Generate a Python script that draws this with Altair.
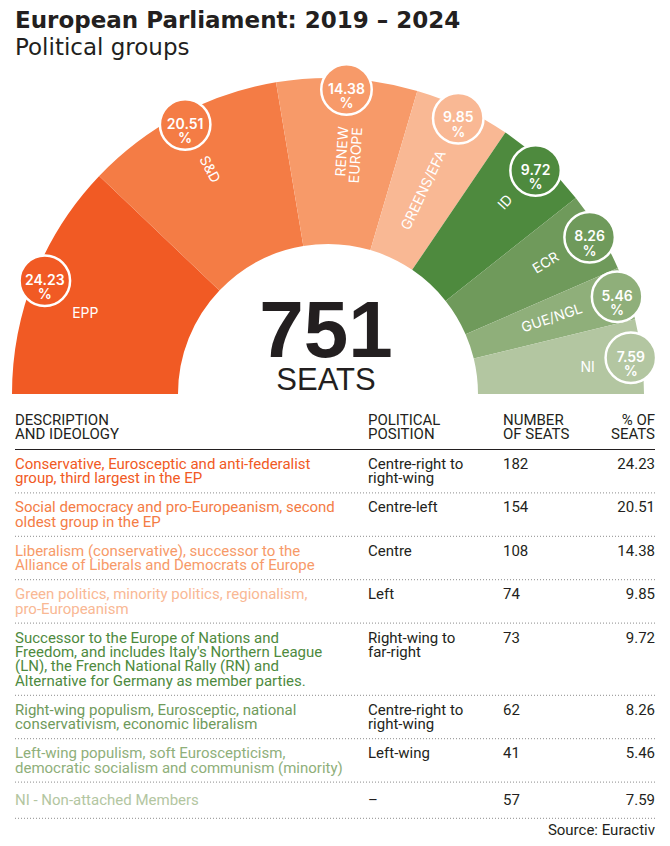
import math
import pandas as pd
import altair as alt

# ---------------- data ----------------
TITLE = "European Parliament: 2019 – 2024"
SUBTITLE = "Political groups"
TOTAL_SEATS = "751"
TOTAL_LABEL = "SEATS"
SOURCE = "Source: Euractiv"

PARTIES = ["EPP", "S&D", "RENEW EUROPE", "GREENS/EFA", "ID", "ECR", "GUE/NGL", "NI"]
ARC_LABELS = ["EPP", "S&D", "RENEW\nEUROPE", "GREENS/EFA", "ID", "ECR", "GUE/NGL", "NI"]
SEATS = [182, 154, 108, 74, 73, 62, 41, 57]
PCT = [24.23, 20.51, 14.38, 9.85, 9.72, 8.26, 5.46, 7.59]
PCT_TEXT = ["24.23", "20.51", "14.38", "9.85", "9.72", "8.26", "5.46", "7.59"]
COLORS = ["#F15A24", "#F47C45", "#F79A69", "#F9B894",
          "#4E8A3E", "#6F9A5B", "#8FAF7A", "#B3C6A1"]

DESCRIPTIONS = [
    ["Conservative, Eurosceptic and anti-federalist", "group, third largest in the EP"],
    ["Social democracy and pro-Europeanism, second", "oldest group in the EP"],
    ["Liberalism (conservative), successor to the", "Alliance of Liberals and Democrats of Europe"],
    ["Green politics, minority politics, regionalism,", "pro-Europeanism"],
    ["Successor to the Europe of Nations and",
     "Freedom, and includes Italy's Northern League",
     "(LN), the French National Rally (RN) and",
     "Alternative for Germany as member parties."],
    ["Right-wing populism, Eurosceptic, national", "conservativism, economic liberalism"],
    ["Left-wing populism, soft Euroscepticism,", "democratic socialism and communism (minority)"],
    ["NI - Non-attached Members"],
]
POSITIONS = [
    ["Centre-right to", "right-wing"],
    ["Centre-left"],
    ["Centre"],
    ["Left"],
    ["Right-wing to", "far-right"],
    ["Centre-right to", "right-wing"],
    ["Left-wing"],
    ["–"],
]
HEADERS = [["DESCRIPTION", "AND IDEOLOGY"], ["POLITICAL", "POSITION"],
           ["NUMBER", "OF SEATS"], ["% OF", "SEATS"]]

# ---------------- layout / style ----------------
CX, CY = 328, 394
R_OUT, R_IN = 316, 150
R_BADGE, R_LABEL = 305, 268
LABEL_HORIZONTAL = [True, False, False, False, False, False, False, True]
LABEL_SHIFT = [-4.5, 0, 0, 0, 0, 0, 0, 1.3]
DARK = "#231F20"
FONT = "Inter"
TFONT = "Roboto"
TSIZE = 15
COL_X = [15, 368, 503, 655]
LINE_H = 14.4
ROW_PAD = 14.6

arc_rows, badge_rows, label_rows = [], [], []
cum = 0.0
for i, p in enumerate(PARTIES):
    start, end = cum, cum + PCT[i]
    cum = end
    t0 = -math.pi / 2 + start / 100 * math.pi
    t1 = -math.pi / 2 + end / 100 * math.pi
    phi = (start + end) / 2 / 100 * 180
    arc_rows.append(dict(party=p, t0=t0, t1=t1, col=COLORS[i], cx=CX, cy=CY))
    pr = math.radians(phi)
    badge_rows.append(dict(party=p, col=COLORS[i],
                           x=CX - R_BADGE * math.cos(pr), y=CY - R_BADGE * math.sin(pr),
                           t=PCT_TEXT[i] + "\n%"))
    lphi = phi + LABEL_SHIFT[i]
    lr = math.radians(lphi)
    if LABEL_HORIZONTAL[i]:
        ang = 0
    elif phi < 90:
        ang = phi
    else:
        ang = phi + 180
    label_rows.append(dict(party=p, x=CX - R_LABEL * math.cos(lr), y=CY - R_LABEL * math.sin(lr),
                           t=ARC_LABELS[i], ang=ang % 360, side="left" if phi < 90 else "right"))

arc_df = pd.DataFrame(arc_rows)
badge_df = pd.DataFrame(badge_rows)
label_df = pd.DataFrame(label_rows)

# table
left_txt, right_txt, dots = [], [], []
for j, h in enumerate(HEADERS):
    for k, line in enumerate(h):
        row = dict(x=COL_X[j], y=420 + k * 14, t=line, col=DARK)
        (right_txt if j == 3 else left_txt).append(row)
top = 449.5
for i in range(len(PARTIES)):
    n = len(DESCRIPTIONS[i])
    h = ROW_PAD + LINE_H * max(n, 1.5)
    first = top + (h - LINE_H * (n - 1)) / 2
    for k, line in enumerate(DESCRIPTIONS[i]):
        left_txt.append(dict(x=COL_X[0], y=first + k * LINE_H, t=line, col=COLORS[i]))
    for k, line in enumerate(POSITIONS[i]):
        left_txt.append(dict(x=COL_X[1], y=first + k * LINE_H, t=line, col=DARK))
    left_txt.append(dict(x=COL_X[2], y=first, t=str(SEATS[i]), col=DARK))
    right_txt.append(dict(x=COL_X[3], y=first, t=PCT_TEXT[i], col=DARK))
    top += h
    dots.append(dict(x1=COL_X[0], x2=COL_X[3], y=top))
right_txt.append(dict(x=COL_X[3], y=top + 12, t=SOURCE, col=DARK))

left_df = pd.DataFrame(left_txt)
right_df = pd.DataFrame(right_txt)
dots_df = pd.DataFrame(dots)
head_df = pd.DataFrame([dict(x1=COL_X[0], x2=COL_X[3], y=449.5)])
title_df = pd.DataFrame([dict(x=15, y=28, t=TITLE)])
sub_df = pd.DataFrame([dict(x=15, y=55, t=SUBTITLE)])
big_df = pd.DataFrame([dict(x=CX - 2, y=357, t=TOTAL_SEATS)])
seat_df = pd.DataFrame([dict(x=CX - 2, y=390, t=TOTAL_LABEL)])


def X(f):
    return alt.X(f, type="quantitative", scale=alt.Scale(domain=[8, 662], nice=False, zero=False), axis=None)


def Y(f):
    return alt.Y(f, type="quantitative", scale=alt.Scale(domain=[838, 8], nice=False, zero=False), axis=None)


arcs = alt.Chart(arc_df).mark_arc(radius=R_OUT, radius2=R_IN).encode(
    x=X("cx"), y=Y("cy"),
    theta=alt.Theta("t0:Q", scale=None), theta2="t1:Q",
    color=alt.Color("col:N", scale=None))

badges = alt.Chart(badge_df).mark_circle(size=2550, opacity=1, stroke="white", strokeWidth=2.5).encode(
    x=X("x"), y=Y("y"), color=alt.Color("col:N", scale=None))

badge_txt = alt.Chart(badge_df).mark_text(font=FONT, fontSize=14, fontWeight=600, color="white",
                                          lineBreak="\n", lineHeight=14.5, baseline="middle").encode(
    x=X("x"), y=Y("y"), text="t:N")

lab_l = alt.Chart(label_df[label_df.side == "left"]).mark_text(
    font=FONT, fontSize=14, color="white", align="left", baseline="middle", lineBreak="\n", lineHeight=14).encode(
    x=X("x"), y=Y("y"), text="t:N", angle=alt.Angle("ang:Q", scale=None))
lab_r = alt.Chart(label_df[label_df.side == "right"]).mark_text(
    font=FONT, fontSize=14, color="white", align="right", baseline="middle", lineBreak="\n", lineHeight=14).encode(
    x=X("x"), y=Y("y"), text="t:N", angle=alt.Angle("ang:Q", scale=None))

title = alt.Chart(title_df).mark_text(font="DejaVu Sans", fontSize=23, fontWeight="bold", color=DARK,
                                      align="left", baseline="alphabetic").encode(x=X("x"), y=Y("y"), text="t:N")
sub = alt.Chart(sub_df).mark_text(font="DejaVu Sans", fontSize=23, color=DARK,
                                  align="left", baseline="alphabetic").encode(x=X("x"), y=Y("y"), text="t:N")
big = alt.Chart(big_df).mark_text(font="Liberation Sans", fontSize=80, fontWeight="bold", color=DARK,
                                  align="center", baseline="alphabetic").encode(x=X("x"), y=Y("y"), text="t:N")
seat = alt.Chart(seat_df).mark_text(font="Liberation Sans", fontSize=31, color=DARK,
                                    align="center", baseline="alphabetic").encode(x=X("x"), y=Y("y"), text="t:N")

tl = alt.Chart(left_df).mark_text(font=TFONT, fontSize=TSIZE, align="left", baseline="middle").encode(
    x=X("x"), y=Y("y"), text="t:N", color=alt.Color("col:N", scale=None))
tr = alt.Chart(right_df).mark_text(font=TFONT, fontSize=TSIZE, align="right", baseline="middle").encode(
    x=X("x"), y=Y("y"), text="t:N", color=alt.Color("col:N", scale=None))

head_rule = alt.Chart(head_df).mark_rule(color=DARK, strokeWidth=1).encode(x=X("x1"), x2="x2", y=Y("y"))
dot_rule = alt.Chart(dots_df).mark_rule(color="#8C8C8C", strokeWidth=1, strokeDash=[1, 2]).encode(
    x=X("x1"), x2="x2", y=Y("y"))

chart = alt.layer(arcs, badges, badge_txt, lab_l, lab_r, title, sub, big, seat,
                  head_rule, dot_rule, tl, tr).properties(
    width=654, height=830, padding=0, autosize=alt.AutoSizeParams(type="none")
).configure_view(stroke=None)

chart.save("out.html", embed_options={"renderer": "svg", "actions": False})
